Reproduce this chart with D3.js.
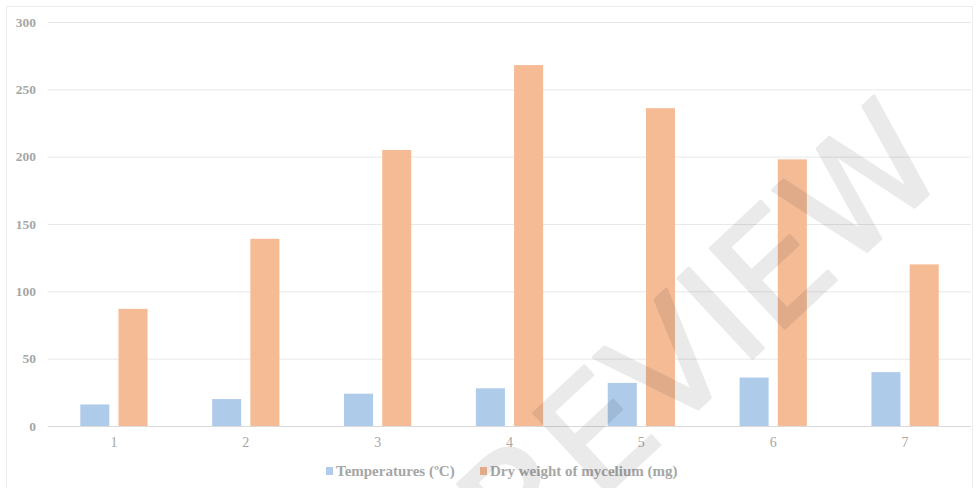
<!DOCTYPE html>
<html>
<head>
<meta charset="utf-8">
<script src="https://cdn.jsdelivr.net/npm/d3@7"></script>
<style>
  body { margin: 0; background: #fff; }
  svg { display: block; }
</style>
</head>
<body>
<div id="chart"></div>
<script>
const categories = ["1", "2", "3", "4", "5", "6", "7"];
const temperatures = [16, 20, 24, 28, 32, 36, 40];
const dryWeight = [87, 139, 205, 268, 236, 198, 120];
const yTicks = [0, 50, 100, 150, 200, 250, 300];
const seriesNames = ["Temperatures (ºC)", "Dry weight of mycelium (mg)"];

document.addEventListener("DOMContentLoaded", drawChart);

function drawChart() {
    const width = 976,
        height = 488,
        margin = {top: 22, right: 5, bottom: 62, left: 48},
        colors = ["#aecbea", "#f5bb95"];

    const svg = d3.select("#chart").append("svg")
        .attr("width", width)
        .attr("height", height);

    // outer frame
    svg.append("rect")
        .attr("x", 6.5).attr("y", 6.5)
        .attr("width", 966).attr("height", 500)
        .attr("fill", "none")
        .attr("stroke", "#ececec");

    const x0 = d3.scaleBand()
        .domain(categories)
        .range([margin.left, width - margin.right])
        .paddingInner(0.49)
        .paddingOuter(0.245);

    const x1 = d3.scaleBand()
        .domain([0, 1])
        .range([0, x0.bandwidth()])
        .paddingInner(0.24);

    const y = d3.scaleLinear()
        .domain([0, 300])
        .range([height - margin.bottom, margin.top]);

    // grid
    const yAxis = svg.append("g")
        .attr("transform", `translate(${margin.left},0)`)
        .call(d3.axisLeft(y).tickValues(yTicks).tickSize(-(width - margin.left - margin.right)).tickPadding(12));
    yAxis.select(".domain").remove();
    yAxis.selectAll("line").attr("stroke", d => d === 0 ? "#d9d9d9" : "#e8e8e8");
    yAxis.selectAll("text")
        .attr("fill", "#a6a6a6")
        .attr("font-family", "'Liberation Serif', serif")
        .attr("font-weight", "bold")
        .attr("font-size", 13.5);

    const rows = categories.map((c, i) => ({cat: c, vals: [temperatures[i], dryWeight[i]]}));

    const groups = svg.append("g").selectAll("g")
        .data(rows)
        .enter().append("g")
        .attr("transform", d => `translate(${x0(d.cat)},0)`);

    groups.selectAll("rect")
        .data(d => d.vals.map((v, k) => ({k: k, v: v})))
        .enter().append("rect")
        .attr("x", d => x1(d.k))
        .attr("width", x1.bandwidth())
        .attr("y", d => y(d.v))
        .attr("height", d => y(0) - y(d.v))
        .attr("fill", d => colors[d.k]);

    // x labels
    const xAxis = svg.append("g")
        .attr("transform", `translate(0,${y(0)})`)
        .call(d3.axisBottom(x0).tickSize(0).tickPadding(11));
    xAxis.select(".domain").remove();
    xAxis.selectAll("text")
        .attr("fill", "#a6a6a6")
        .attr("font-family", "'Liberation Serif', serif")
        .attr("font-size", 14);

    // legend
    const legendX = [326, 480];
    const legend = svg.append("g");
    seriesNames.forEach((name, k) => {
        legend.append("rect")
            .attr("x", legendX[k]).attr("y", 467)
            .attr("width", 7).attr("height", 8)
            .attr("fill", colors[k]);
        legend.append("text")
            .attr("x", legendX[k] + 10).attr("y", 476)
            .attr("fill", "#a6a6a6")
            .attr("font-family", "'Liberation Serif', serif")
            .attr("font-weight", "bold")
            .attr("font-size", 15)
            .text(name);
    });

    // watermark
    svg.append("g")
        .attr("opacity", 0.08)
        .append("text")
        .attr("transform", "translate(668,366) rotate(-43)")
        .attr("text-anchor", "middle")
        .attr("dominant-baseline", "central")
        .attr("font-family", "'DejaVu Sans', sans-serif")
        .attr("font-size", 150)
        .attr("letter-spacing", 0)
        .attr("fill", "#000")
        .attr("stroke", "#000")
        .attr("stroke-width", 3)
        .attr("stroke-linejoin", "round")
        .text("PREVIEW");
}
</script>
</body>
</html>
